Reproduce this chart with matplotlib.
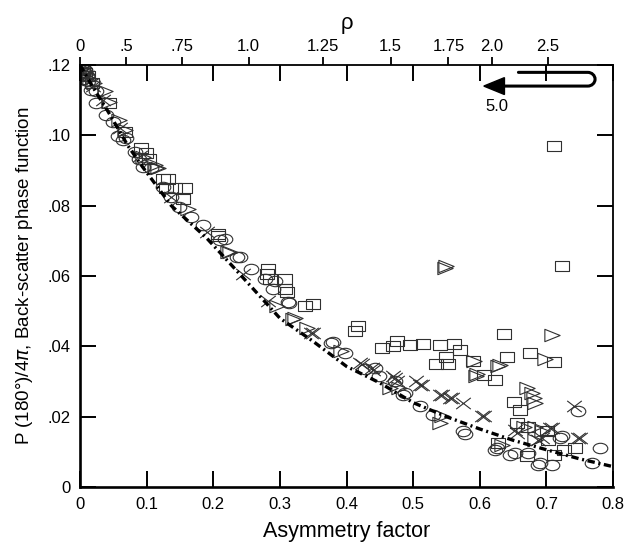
import numpy as np
import matplotlib
matplotlib.use('Agg')
import matplotlib.pyplot as plt
from matplotlib.path import Path
from matplotlib.patches import PathPatch, Polygon
from matplotlib.transforms import Affine2D

plt.rcParams['font.family'] = ['Liberation Sans', 'DejaVu Sans']

# ---- data (asymmetry factor, P(180)/4pi) ----
circ_x = [0.002, 0.004, 0.006, 0.003, 0.008, 0.010, 0.005, 0.012, 0.016, 0.024, 0.024, 0.039,
          0.049, 0.057, 0.064, 0.069, 0.082, 0.089, 0.094, 0.107, 0.124, 0.137, 0.149, 0.167,
          0.184, 0.210, 0.217, 0.235, 0.240, 0.257, 0.277, 0.290, 0.292, 0.312, 0.313, 0.377,
          0.380, 0.397, 0.428, 0.443, 0.448, 0.473, 0.485, 0.488, 0.510, 0.530, 0.575, 0.578,
          0.623, 0.626, 0.646, 0.653, 0.673, 0.688, 0.691, 0.708, 0.721, 0.723, 0.748, 0.781,
          0.768]
circ_y = [0.1195, 0.1188, 0.1180, 0.1172, 0.1185, 0.1168, 0.1160, 0.1155, 0.1129, 0.1125, 0.1091, 0.1058,
          0.1039, 0.0999, 0.0986, 0.0991, 0.0953, 0.0934, 0.0911, 0.0906, 0.0853, 0.0825, 0.0797, 0.0767,
          0.0744, 0.0701, 0.0706, 0.0653, 0.0653, 0.0620, 0.0592, 0.0563, 0.0587, 0.0525, 0.0522, 0.0410,
          0.0412, 0.0380, 0.0336, 0.0339, 0.0315, 0.0301, 0.0263, 0.0267, 0.0229, 0.0206, 0.0158, 0.0150,
          0.0106, 0.0110, 0.0091, 0.0096, 0.0096, 0.0063, 0.0068, 0.0063, 0.0139, 0.0144, 0.0215, 0.0110,
          0.0067]

sq_x = [0.004, 0.008, 0.012, 0.018, 0.044, 0.067, 0.092, 0.099, 0.104, 0.124, 0.129, 0.132,
        0.142, 0.155, 0.157, 0.207, 0.207, 0.280, 0.282, 0.285, 0.307, 0.307, 0.310, 0.337,
        0.350, 0.413, 0.417, 0.453, 0.470, 0.475, 0.495, 0.515, 0.540, 0.562, 0.570, 0.550,
        0.535, 0.553, 0.590, 0.606, 0.623, 0.637, 0.641, 0.676, 0.712, 0.724, 0.711, 0.651,
        0.661, 0.656, 0.673, 0.701, 0.703, 0.628, 0.743, 0.726, 0.711, 0.671]
sq_y = [0.1190, 0.1178, 0.1170, 0.1150, 0.1091, 0.1010, 0.0963, 0.0949, 0.0934, 0.0877, 0.0849, 0.0877,
        0.0849, 0.0820, 0.0849, 0.0720, 0.0715, 0.0606, 0.0620, 0.0592, 0.0563, 0.0592, 0.0554, 0.0515,
        0.0520, 0.0444, 0.0458, 0.0396, 0.0401, 0.0415, 0.0404, 0.0406, 0.0404, 0.0408, 0.0390, 0.0370,
        0.0351, 0.0351, 0.0358, 0.0318, 0.0303, 0.0436, 0.0370, 0.0382, 0.0355, 0.0629, 0.0971, 0.0241,
        0.0220, 0.0182, 0.0172, 0.0158, 0.0134, 0.0125, 0.0111, 0.0106, 0.0091, 0.0087]

tri_x = [0.003, 0.007, 0.011, 0.015, 0.0215, 0.037, 0.044, 0.059, 0.067, 0.094, 0.112, 0.114,
         0.117, 0.162, 0.222, 0.225, 0.295, 0.320, 0.322, 0.340, 0.392, 0.465, 0.478, 0.540,
         0.543, 0.548, 0.550, 0.591, 0.596, 0.594, 0.628, 0.631, 0.698, 0.708, 0.671, 0.678,
         0.681, 0.683, 0.666, 0.683, 0.693, 0.683, 0.633]
tri_y = [0.1192, 0.1182, 0.1175, 0.1160, 0.1148, 0.1125, 0.1096, 0.1044, 0.1015, 0.0939, 0.0915, 0.0906,
         0.0906, 0.0791, 0.0667, 0.0668, 0.0515, 0.0477, 0.0482, 0.0453, 0.0386, 0.0282, 0.0282, 0.0182,
         0.0201, 0.0624, 0.0629, 0.0358, 0.0320, 0.0315, 0.0344, 0.0346, 0.0363, 0.0431, 0.0282, 0.0268,
         0.0253, 0.0239, 0.0172, 0.0172, 0.0158, 0.0134, 0.0120]

x_x = [0.005, 0.010, 0.020, 0.035, 0.060, 0.090, 0.137, 0.190, 0.245, 0.282, 0.347, 0.350,
       0.420, 0.423, 0.438, 0.440, 0.470, 0.473, 0.475, 0.505, 0.510, 0.513, 0.540, 0.543,
       0.555, 0.558, 0.575, 0.603, 0.606, 0.653, 0.656, 0.688, 0.693, 0.706, 0.708, 0.741,
       0.748, 0.751]
x_y = [0.1185, 0.1170, 0.1140, 0.1100, 0.1020, 0.0940, 0.0825, 0.0725, 0.0606, 0.0530, 0.0439, 0.0439,
       0.0353, 0.0349, 0.0339, 0.0334, 0.0315, 0.0310, 0.0301, 0.0301, 0.0291, 0.0291, 0.0263, 0.0263,
       0.0253, 0.0253, 0.0239, 0.0201, 0.0201, 0.0163, 0.0153, 0.0134, 0.0139, 0.0168, 0.0167, 0.0229,
       0.0139, 0.0139]

# dash-dot reference curve
curve_x = [0, 0.02, 0.042, 0.072, 0.094, 0.137, 0.19, 0.24, 0.30, 0.35, 0.40, 0.45,
           0.50, 0.55, 0.60, 0.65, 0.70, 0.75, 0.80]
curve_y = [0.120, 0.1135, 0.1068, 0.097, 0.091, 0.080, 0.0708, 0.0605, 0.048, 0.0414, 0.0343, 0.0296,
           0.0240, 0.0200, 0.0165, 0.0133, 0.0106, 0.0080, 0.0058]

xticks = [0, 0.1, 0.2, 0.3, 0.4, 0.5, 0.6, 0.7, 0.8]
xticklabels = ['0', '0.1', '0.2', '0.3', '0.4', '0.5', '0.6', '0.7', '0.8']
yticks = [0, 0.02, 0.04, 0.06, 0.08, 0.10, 0.12]
yticklabels = ['0', '.02', '.04', '.06', '.08', '.10', '.12']
rho_pos = [0.0, 0.069, 0.153, 0.253, 0.365, 0.466, 0.553, 0.618, 0.702]
rho_labels = ['0', '.5', '.75', '1.0', '1.25', '1.5', '1.75', '2.0', '2.5']

# ---- marker shapes (wider than tall, like the original) ----
ellipse = Path.unit_circle().transformed(Affine2D().scale(1.4, 1.0))
rect = Path([(-1.4, -1), (1.4, -1), (1.4, 1), (-1.4, 1), (-1.4, -1)],
            [Path.MOVETO, Path.LINETO, Path.LINETO, Path.LINETO, Path.CLOSEPOLY])
tri = Path([(1.3, 0), (-1.3, 1.05), (-1.3, -1.05), (1.3, 0)],
           [Path.MOVETO, Path.LINETO, Path.LINETO, Path.CLOSEPOLY])
cross = Path([(-1.3, -1), (1.3, 1), (-1.3, 1), (1.3, -1)],
             [Path.MOVETO, Path.LINETO, Path.MOVETO, Path.LINETO])

fig = plt.figure(figsize=(6.28, 5.46), dpi=100)
ax = fig.add_axes([0.1274, 0.108, 0.8488, 0.773])

mk = dict(ls='none', mfc='none', mec='#303030', mew=0.8)
ax.plot(circ_x, circ_y, marker=ellipse, ms=10.5, **mk)
ax.plot(sq_x, sq_y, marker=rect, ms=10, **mk)
ax.plot(tri_x, tri_y, marker=tri, ms=11, **mk)
ax.plot(x_x, x_y, marker=cross, ms=10.5, **mk)

ax.plot(curve_x, curve_y, color='black', lw=2.4, ls=(0, (2.2, 1.1, 0.6, 1.1)))

ax.set_xlim(0, 0.8)
ax.set_ylim(0, 0.12)
ax.set_xticks(xticks)
ax.set_xticklabels(xticklabels)
ax.set_yticks(yticks)
ax.set_yticklabels(yticklabels)

# top rho axis
ax2 = ax.twiny()
ax2.set_xlim(0, 0.8)
ax2.set_xticks(rho_pos)
ax2.set_xticklabels(rho_labels)
ax2.tick_params(direction='out', length=6, width=1.3, labelsize=12, pad=2)
for s in ax2.spines.values():
    s.set_visible(False)
ax2.set_xlabel('ρ', fontsize=16, labelpad=7)

# inward ticks on all four sides of the main frame (after twiny)
ax.tick_params(axis='both', direction='in', length=11.5, width=1.4,
               top=True, right=True, labeltop=False, labelright=False,
               labelsize=12, pad=7)
for s in ['left', 'bottom']:
    ax.spines[s].set_linewidth(1.9)
for s in ['top', 'right']:
    ax.spines[s].set_linewidth(1.3)

ax.set_xlabel('Asymmetry factor', fontsize=15.5, labelpad=7)
ax.set_ylabel('P (180°)/4$\\pi$, Back-scatter phase function', fontsize=13.5, labelpad=9)

# U-turn arrow in the top-right corner
y_top, y_bot = 0.1179, 0.1140
xr, rx = 0.762, 0.011
ym, ry = (y_top + y_bot) / 2, (y_top - y_bot) / 2
k = 0.552
verts = [(0.658, y_top), (xr, y_top),
         (xr + k * rx, y_top), (xr + rx, ym + k * ry), (xr + rx, ym),
         (xr + rx, ym - k * ry), (xr + k * rx, y_bot), (xr, y_bot),
         (0.630, y_bot)]
codes = [Path.MOVETO, Path.LINETO,
         Path.CURVE4, Path.CURVE4, Path.CURVE4,
         Path.CURVE4, Path.CURVE4, Path.CURVE4,
         Path.LINETO]
ax.add_patch(PathPatch(Path(verts, codes), fc='none', ec='black', lw=2.2, capstyle='round'))
ax.add_patch(Polygon([(0.606, y_bot), (0.637, y_bot + 0.0024), (0.637, y_bot - 0.0024)],
                     closed=True, fc='black', ec='black'))
ax.text(0.625, 0.1082, '5.0', fontsize=12, ha='center', va='center')

fig.savefig('out.png', dpi=100)
